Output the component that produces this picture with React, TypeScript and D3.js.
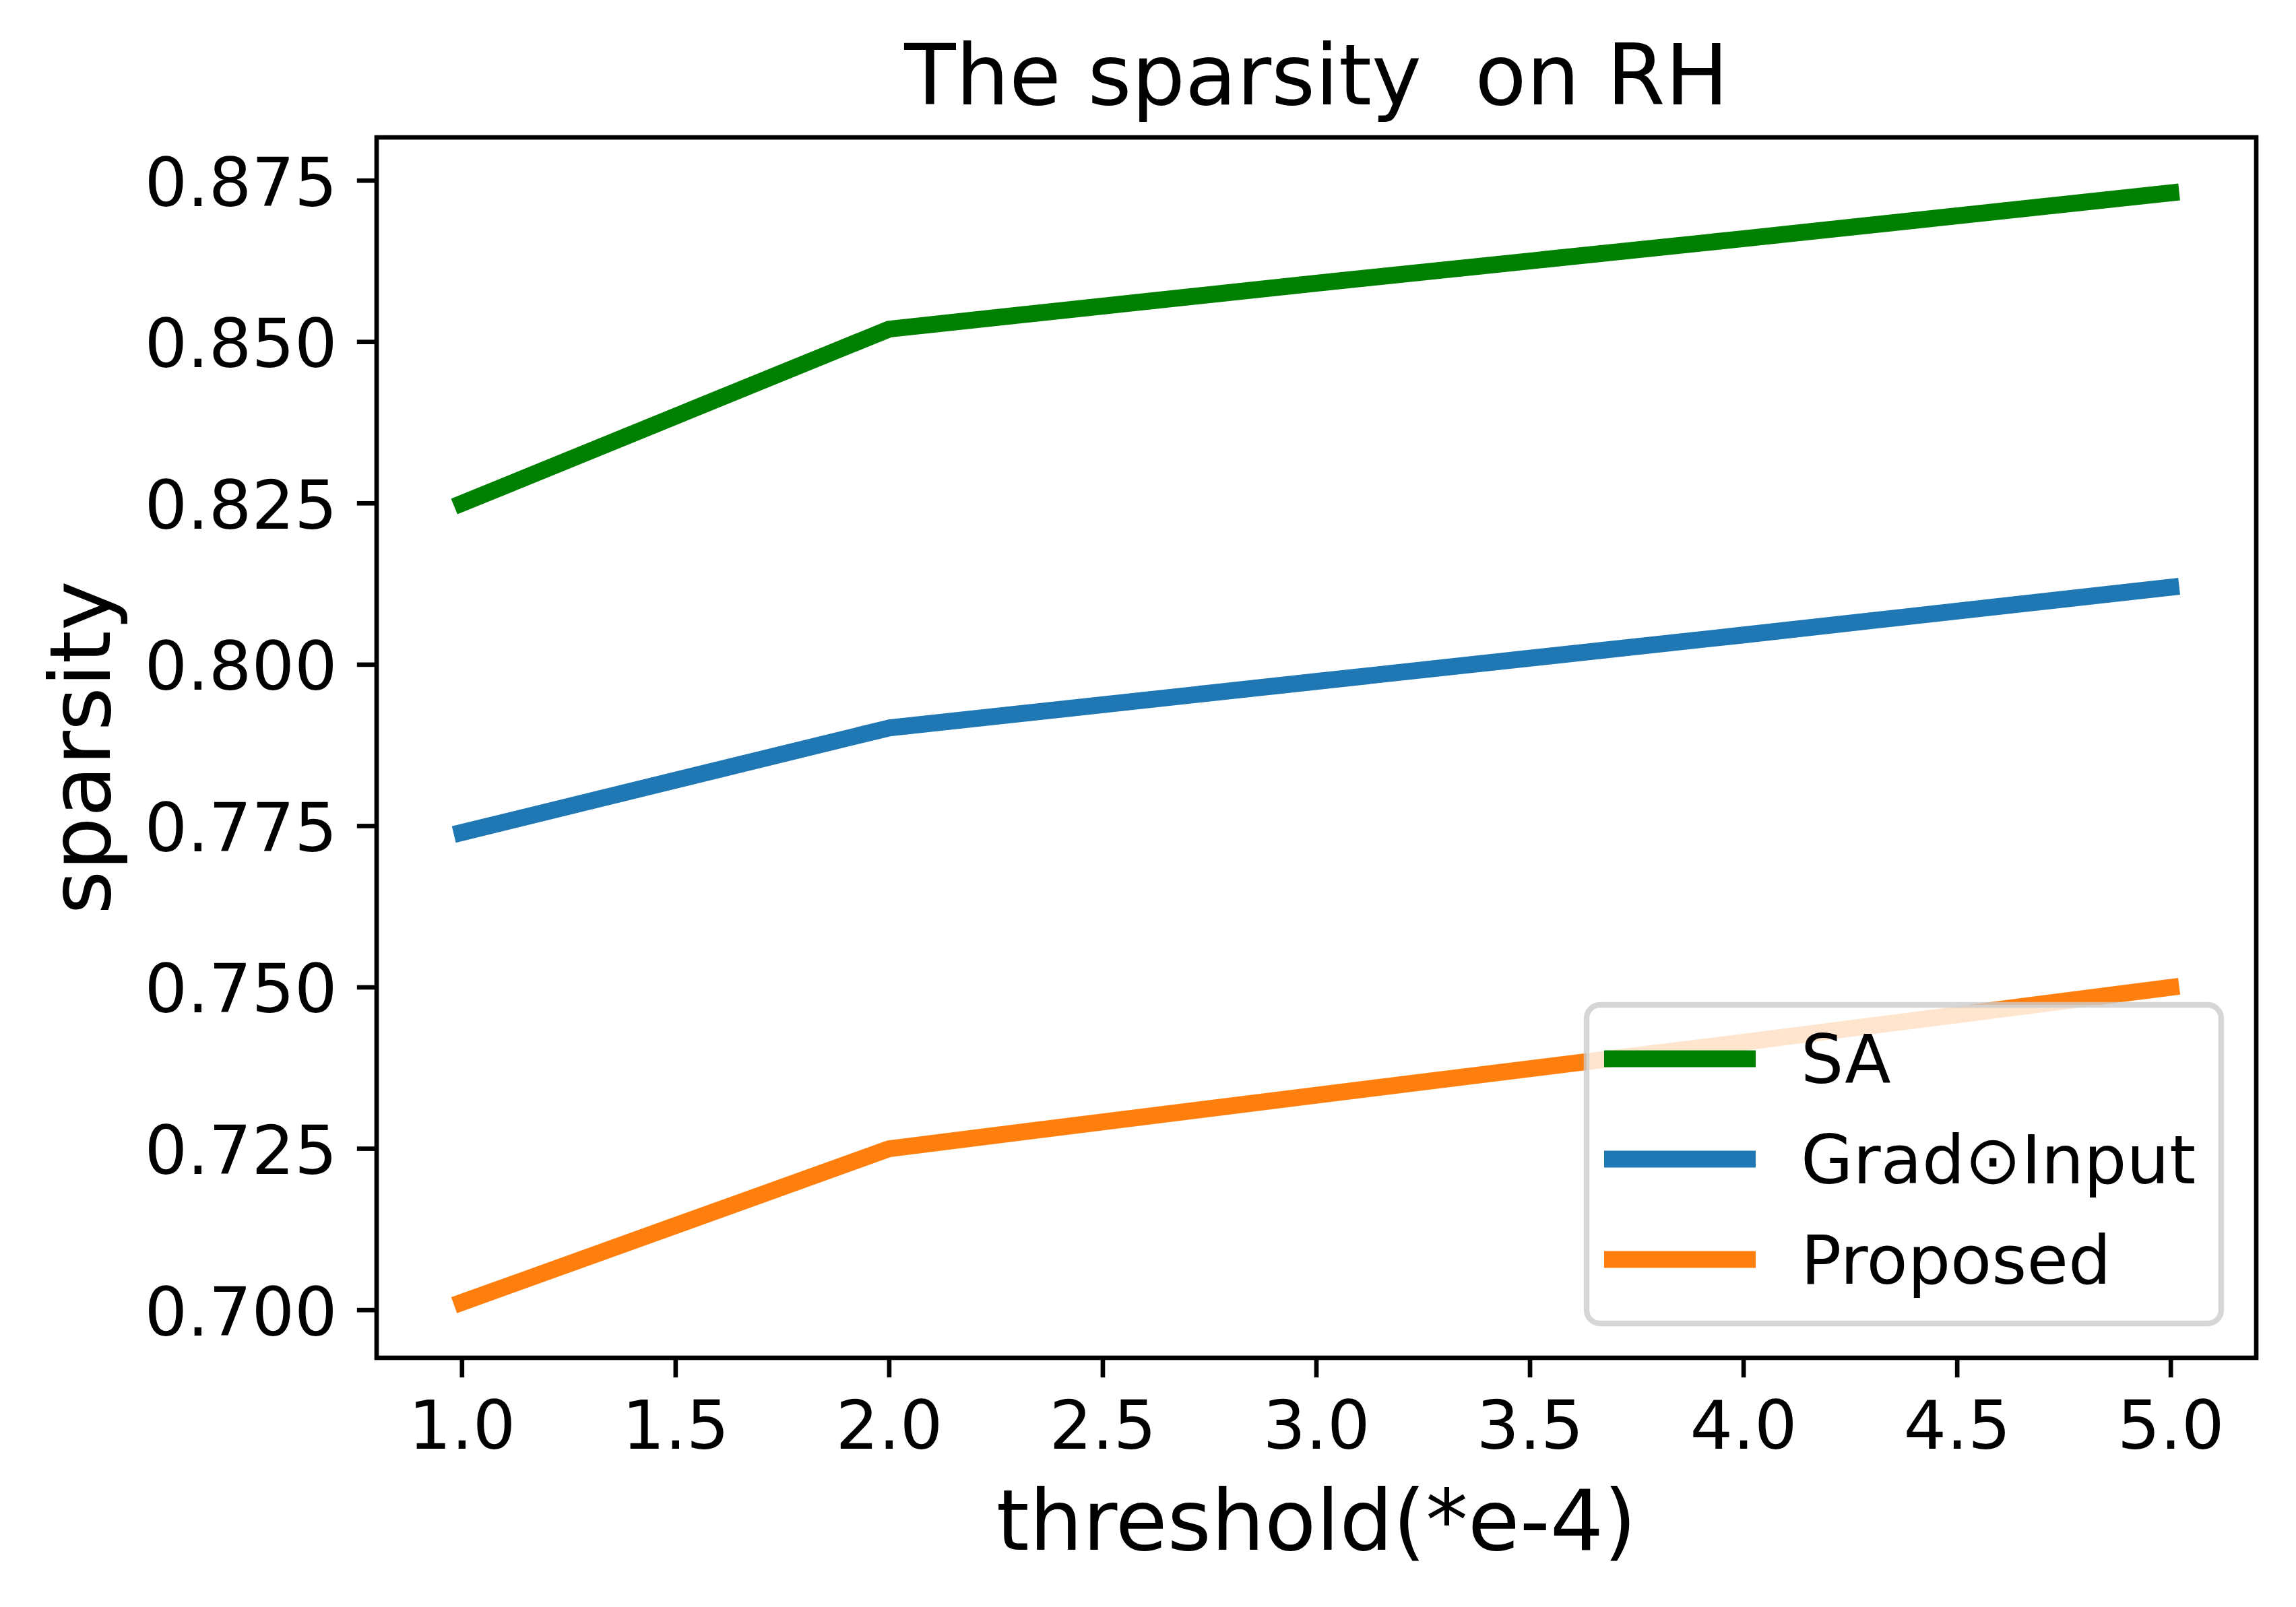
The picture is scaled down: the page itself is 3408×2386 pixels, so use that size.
import React from "react";
import * as d3 from "d3";

// ---- data ----
const thresholds = [1, 2, 3, 4, 5];
const saValues = [0.825, 0.852, 0.8591, 0.866, 0.8731];
const gradInputValues = [0.774, 0.7902, 0.7974, 0.8046, 0.812];
const proposedValues = [0.7012, 0.725, 0.7333, 0.7415, 0.75];
const seriesNames = ["SA", "Grad\u2299Input", "Proposed"];
const seriesColors = ["#008000", "#1f77b4", "#ff7f0e"];
const xTickValues = [1.0, 1.5, 2.0, 2.5, 3.0, 3.5, 4.0, 4.5, 5.0];
const yTickValues = [0.7, 0.725, 0.75, 0.775, 0.8, 0.825, 0.85, 0.875];
const titleText = "The sparsity  on RH";
const xLabelText = "threshold(*e-4)";
const yLabelText = "sparsity";

const W = 3408;
const H = 2386;
const M = { left: 559, right: 3349, top: 204, bottom: 2016 };
const PT = 600 / 72; // px per point
const FONT = "'DejaVu Sans', sans-serif";

export default function App() {
  const allSeries = [saValues, gradInputValues, proposedValues];
  const xMin = d3.min(thresholds) as number;
  const xMax = d3.max(thresholds) as number;
  const xPad = (xMax - xMin) * 0.05;
  const x = d3.scaleLinear().domain([xMin - xPad, xMax + xPad]).range([M.left, M.right]);
  const flat = allSeries.flat();
  const yMin = d3.min(flat) as number;
  const yMax = d3.max(flat) as number;
  const yPad = (yMax - yMin) * 0.05;
  const y = d3.scaleLinear().domain([yMin - yPad, yMax + yPad]).range([M.bottom, M.top]);

  const line = d3
    .line<[number, number]>()
    .x((d) => x(d[0]))
    .y((d) => y(d[1]));

  const lw = 3 * PT;
  const tickLen = 3.5 * PT;
  const tickW = 0.8 * PT;
  const pad = 3.5 * PT;
  const tickFs = 12 * PT;
  const labelFs = 15 * PT;
  const fx = d3.format(".1f");
  const fy = d3.format(".3f");

  // legend geometry
  const lgLeft = 2355;
  const lgRight = 3297;
  const lgTop = 1492;
  const lgBottom = 1965;
  const lgRowY = [1572, 1721, 1870];
  const handleX0 = 2393.5;
  const handleX1 = 2593.5;
  const textX = 2673;

  return (
    <svg
      width={W}
      height={H}
      viewBox={`0 0 ${W} ${H}`}
      style={{ position: "absolute", left: 0, top: 0, background: "#ffffff" }}
      fontFamily={FONT}
    >
      <rect x={0} y={0} width={W} height={H} fill="#ffffff" />
      <defs>
        <clipPath id="plotclip">
          <rect x={M.left} y={M.top} width={M.right - M.left} height={M.bottom - M.top} />
        </clipPath>
      </defs>

      {/* lines */}
      <g clipPath="url(#plotclip)">
        {allSeries.map((vals, i) => (
          <path
            key={seriesNames[i]}
            d={line(thresholds.map((t, j) => [t, vals[j]] as [number, number])) || ""}
            fill="none"
            stroke={seriesColors[i]}
            strokeWidth={lw}
            strokeLinecap="square"
            strokeLinejoin="round"
          />
        ))}
      </g>

      {/* spines */}
      <rect
        x={M.left}
        y={M.top}
        width={M.right - M.left}
        height={M.bottom - M.top}
        fill="none"
        stroke="#000"
        strokeWidth={tickW}
      />

      {/* x ticks */}
      {xTickValues.map((t) => (
        <g key={"xt" + t}>
          <line x1={x(t)} x2={x(t)} y1={M.bottom} y2={M.bottom + tickLen} stroke="#000" strokeWidth={tickW} />
          <text x={x(t)} y={2151} textAnchor="middle" fontSize={tickFs} fill="#000">
            {fx(t)}
          </text>
        </g>
      ))}

      {/* y ticks */}
      {yTickValues.map((t) => (
        <g key={"yt" + t}>
          <line x1={M.left - tickLen} x2={M.left} y1={y(t)} y2={y(t)} stroke="#000" strokeWidth={tickW} />
          <text x={M.left - tickLen - pad} y={y(t) + 37.5} textAnchor="end" fontSize={tickFs} fill="#000">
            {fy(t)}
          </text>
        </g>
      ))}

      {/* title */}
      <text
        x={(M.left + M.right) / 2}
        y={155}
        textAnchor="middle"
        fontSize={labelFs}
        fill="#000"
        style={{ whiteSpace: "pre" }}
      >
        {titleText}
      </text>

      {/* axis labels */}
      <text x={(M.left + M.right) / 2} y={2301} textAnchor="middle" fontSize={labelFs} fill="#000">
        {xLabelText}
      </text>
      <text
        transform={`translate(162.5, ${(M.top + M.bottom) / 2}) rotate(-90)`}
        textAnchor="middle"
        fontSize={labelFs}
        fill="#000"
      >
        {yLabelText}
      </text>

      {/* legend */}
      <rect
        x={lgLeft}
        y={lgTop}
        width={lgRight - lgLeft}
        height={lgBottom - lgTop}
        rx={20}
        ry={20}
        fill="#ffffff"
        fillOpacity={0.8}
        stroke="#cccccc"
        strokeOpacity={0.8}
        strokeWidth={1 * PT}
      />
      {seriesNames.map((name, i) => (
        <g key={"lg" + name}>
          <line
            x1={handleX0}
            x2={handleX1}
            y1={lgRowY[i]}
            y2={lgRowY[i]}
            stroke={seriesColors[i]}
            strokeWidth={lw}
            strokeLinecap="square"
          />
          <text x={textX} y={lgRowY[i] + 36} fontSize={tickFs} fill="#000">
            {name}
          </text>
        </g>
      ))}
    </svg>
  );
}
